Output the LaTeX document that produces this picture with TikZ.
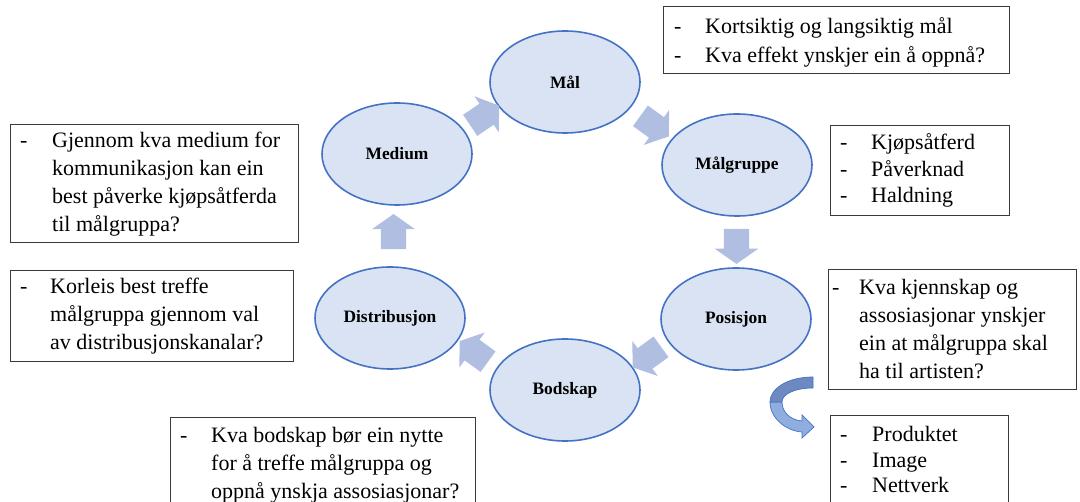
\documentclass[tikz,border=0pt]{standalone}
\usepackage{fontspec}
\setmainfont{Liberation Serif}
\usetikzlibrary{shapes.geometric,shapes.arrows,calc}
\definecolor{ellfill}{HTML}{DAE3F3}
\definecolor{ellline}{HTML}{4472C4}
\definecolor{arrfill}{RGB}{176,191,225}
\definecolor{boxline}{HTML}{3A3A3A}
\definecolor{curvdark}{HTML}{6D89C2}
\definecolor{curvlight}{HTML}{90ADE0}

\begin{document}
\begin{tikzpicture}[x=1pt,y=-1pt,
  stage/.style={ellipse, draw=ellline, line width=1.6pt, fill=ellfill,
    minimum width=150pt, minimum height=102pt, inner sep=0pt,
    font=\fontsize{17.4}{20}\selectfont\bfseries},
  flow/.style={single arrow, fill=arrfill, draw=none,
    inner xsep=0pt, inner ysep=12.5pt,
    minimum height=35pt, single arrow head extend=9pt,
    single arrow tip angle=110},
  infobox/.style={draw=boxline, line width=0.9pt, anchor=north west, inner sep=0pt},
  infotext/.style={anchor=base west, inner sep=0pt, font=\fontsize{22}{#1}\selectfont},
  infotext/.default=27.7,
]
\useasboundingbox (0,0) rectangle (1080,502);
\clip (0,0) rectangle (1080,502);

% cycle stages
\node[stage] (mal)   at (565,82)  {Mål};
\node[stage] (grp)   at (737,165) {Målgruppe};
\node[stage] (pos)   at (736,319) {Posisjon};
\node[stage] (bod)   at (565,390) {Bodskap};
\node[stage] (dist)  at (390,318) {Distribusjon};
\node[stage] (med)   at (397,154) {Medium};

% block arrows between the stages
\node[flow, rotate=34]   (a1) at ($(med)!0.5!(mal)$)  {};
\node[flow, rotate=-36]  (a2) at ($(mal)!0.5!(grp)$)  {};
\node[flow, rotate=-90]  (a3) at ($(grp)!0.5!(pos)$)  {};
\node[flow, rotate=-144] (a4) at ($(pos)!0.5!(bod)$)  {};
\node[flow, rotate=144]  (a5) at ($(bod)!0.5!(dist)$) {};
\node[flow, rotate=90]   (a6) at ($(dist)!0.5!(med)$) {};

% text boxes
\node[infobox, minimum width=346pt, minimum height=67pt] (goalbox) at (663,6) {};
\node[infotext=29] (goaltext) at (674,34)
  {\begin{tabular}[t]{@{}p{31pt}@{}l@{}}-&Kortsiktig og langsiktig mål\\-&Kva effekt ynskjer ein å oppnå?\end{tabular}};

\node[infobox, minimum width=179pt, minimum height=90pt] (grpbox) at (830,125) {};
\node[infotext=26.5] (grptext) at (840,150)
  {\begin{tabular}[t]{@{}p{31pt}@{}l@{}}-&Kjøpsåtferd\\-&Påverknad\\-&Haldning\end{tabular}};

\node[infobox, minimum width=248pt, minimum height=120pt] (posbox) at (828,269) {};
\node[infotext] (postext) at (832,295)
  {\begin{tabular}[t]{@{}p{27pt}@{}l@{}}-&Kva kjennskap og\\&assosiasjonar ynskjer\\&ein at målgruppa skal\\&ha til artisten?\end{tabular}};

\node[infobox, minimum width=178pt, minimum height=100pt] (resbox) at (830,415) {};
\node[infotext=25.5] (restext) at (840,442)
  {\begin{tabular}[t]{@{}p{32pt}@{}l@{}}-&Produktet\\-&Image\\-&Nettverk\end{tabular}};

\node[infobox, minimum width=305pt, minimum height=100pt] (bodbox) at (170,417) {};
\node[infotext] (bodtext) at (180,443)
  {\begin{tabular}[t]{@{}p{31pt}@{}l@{}}-&Kva bodskap bør ein nytte\\&for å treffe målgruppa og\\&oppnå ynskja assosiasjonar?\end{tabular}};

\node[infobox, minimum width=288pt, minimum height=118pt] (medbox) at (10,124) {};
\node[infotext] (medtext) at (20,148)
  {\begin{tabular}[t]{@{}p{32pt}@{}l@{}}-&Gjennom kva medium for\\&kommunikasjon kan ein\\&best påverke kjøpsåtferda\\&til målgruppa?\end{tabular}};

\node[infobox, minimum width=283pt, minimum height=91pt] (distbox) at (10,270) {};
\node[infotext] (disttext) at (20,294)
  {\begin{tabular}[t]{@{}p{30pt}@{}l@{}}-&Korleis best treffe\\&målgruppa gjennom val\\&av distribusjonskanalar?\end{tabular}};

% curved ribbon arrow leading from the position box to the result box
\coordinate (cstart) at (813,377);
\coordinate (cend) at (814,427);
\fill[curvlight, draw=ellline, line width=0.7pt]
  (770,402) .. controls (770,418) and (786,431) .. (802,432)
  -- (802,438) -- (cend) -- (802,415) -- (802,421)
  .. controls (790,420) and (782,412) .. (782,402) -- cycle;
\fill[curvdark, draw=ellline, line width=0.7pt]
  (cstart) .. controls (787,377) and (770,389) .. (770,402)
  -- (782,402) .. controls (782,394) and (795,388) .. (813,388) -- cycle;
\end{tikzpicture}
\end{document}
